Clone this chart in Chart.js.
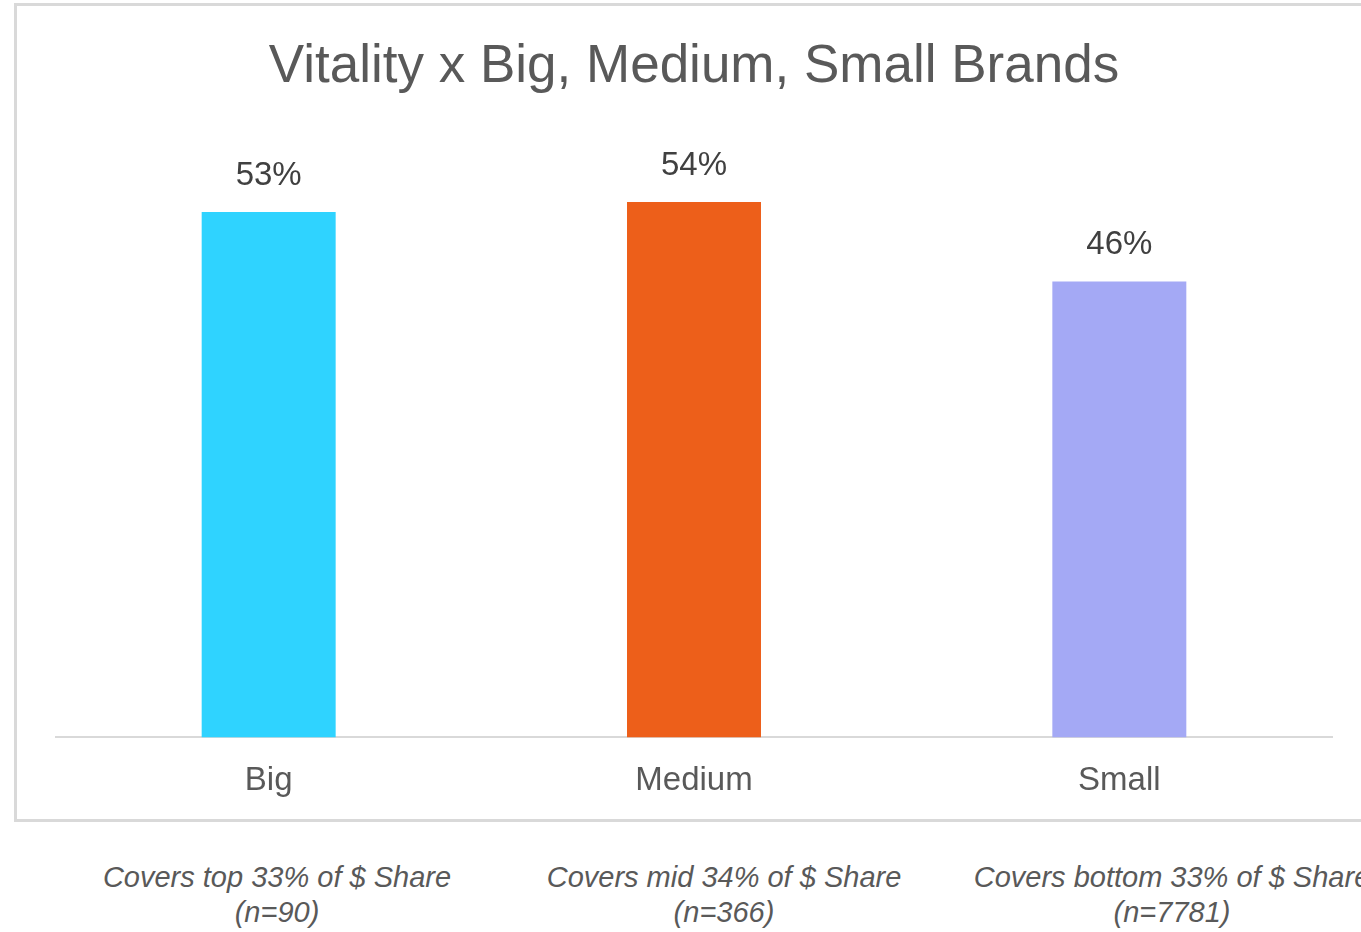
<!DOCTYPE html>
<html>
<head>
<meta charset="utf-8">
<title>Vitality x Big, Medium, Small Brands</title>
<script src="https://cdn.jsdelivr.net/npm/chart.js@4.4.1/dist/chart.umd.min.js"></script>
<style>
  html, body { margin: 0; padding: 0; background: #fff; overflow: hidden; }
  body { width: 1361px; height: 932px; position: relative; }
  #box {
    position: absolute; left: 14px; top: 3px;
    width: 1360px; height: 813px;
    border: 3px solid #d9d9d9;
  }
  .note {
    position: absolute; top: 860px; width: 460px; margin-left: -230px;
    font: italic 29px "Liberation Sans", Arial, sans-serif;
    color: #595959; text-align: center; line-height: 35px; white-space: nowrap;
  }
</style>
</head>
<body>
<div id="box"><canvas id="myChart" width="1360" height="813"></canvas></div>
<div id="notes"></div>
<script>
const categories = ["Big", "Medium", "Small"];
const vitality = [53, 54, 46];
const barColors = ["#2fd3ff", "#ed5f1a", "#a4a9f5"];
const notes = [
    ["Covers top 33% of $ Share", "(n=90)"],
    ["Covers mid 34% of $ Share", "(n=366)"],
    ["Covers bottom 33% of $ Share", "(n=7781)"]
];
const noteCenters = [277, 724, 1172];

// captions under the box
const notesDiv = document.getElementById("notes");
notes.forEach((lines, i) => {
    let d = document.createElement("div");
    d.className = "note";
    d.style.left = noteCenters[i] + "px";
    d.innerHTML = lines.join("<br>");
    notesDiv.appendChild(d);
});

// percent labels above each bar
const valueLabels = {
    id: "valueLabels",
    afterDatasetsDraw(chart) {
        const ctx = chart.ctx;
        const meta = chart.getDatasetMeta(0);
        ctx.save();
        ctx.font = '33px "Liberation Sans", Arial, sans-serif';
        ctx.fillStyle = "#404040";
        ctx.textAlign = "center";
        ctx.textBaseline = "middle";
        meta.data.forEach((bar, i) => {
            ctx.fillText(vitality[i] + "%", bar.x, bar.y - 36);
        });
        ctx.restore();
    }
};

var ctx = document.getElementById("myChart");
var chart = new Chart(ctx, {
    type: "bar",
    data: {
        labels: categories,
        datasets: [{
            data: vitality,
            backgroundColor: barColors,
            barPercentage: 0.315,
            categoryPercentage: 1
        }]
    },
    options: {
        responsive: false,
        animation: false,
        layout: { padding: { top: 30, left: 39, right: 45, bottom: -6 } },
        plugins: {
            legend: { display: false },
            tooltip: { enabled: false },
            title: {
                display: true,
                text: "Vitality x Big, Medium, Small Brands",
                color: "#595959",
                font: { family: '"Liberation Sans", Arial, sans-serif', size: 53, weight: "normal" },
                padding: { top: 0, bottom: 43 }
            }
        },
        scales: {
            y: { display: false, min: 0, max: 60 },
            x: {
                grid: { display: false, drawTicks: false },
                border: { display: true, color: "#d9d9d9", width: 2 },
                ticks: {
                    color: "#595959",
                    padding: 24,
                    font: { family: '"Liberation Sans", Arial, sans-serif', size: 33 }
                }
            }
        }
    },
    plugins: [valueLabels]
});
</script>
</body>
</html>
